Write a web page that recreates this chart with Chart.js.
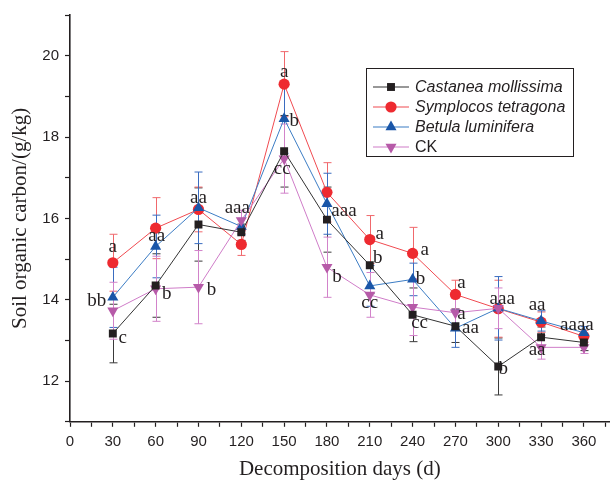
<!DOCTYPE html>
<html lang="en">
  <head>
    <meta charset="utf-8" />
    <title>Soil organic carbon</title>
    <style>
      * {
        margin: 0;
        padding: 0;
      }
      body {
        background: white;
      }
      .chartBox {
        width: 616px;
        height: 486px;
      }
    </style>
  </head>
  <body>
    <div class="chartBox">
      <canvas id="myChart"></canvas>
    </div>

    <script src="https://cdn.jsdelivr.net/npm/chart.js@4.4.0/dist/chart.umd.min.js"></script>

    <script>
      // decomposition days
      const days = [30, 60, 90, 120, 150, 180, 210, 240, 270, 300, 330, 360];

      // soil organic carbon (g/kg)
      const castanea = [13.17, 14.35, 15.85, 15.66, 17.65, 15.97, 14.85, 13.63, 13.35, 12.36, 13.08, 12.95];
      const symplocos = [14.91, 15.76, 16.22, 15.36, 19.3, 16.64, 15.48, 15.14, 14.13, 13.78, 13.45, 13.1];
      const betula = [14.06, 15.31, 16.26, 15.8, 18.45, 16.36, 14.34, 14.5, 13.3, 13.79, 13.48, 13.19];
      const ck = [13.73, 14.27, 14.31, 15.95, 17.47, 14.8, 14.12, 13.82, 13.68, 13.79, 12.83, 12.83];

      // error bar half lengths
      const castaneaErr = [0.72, 0.78, 0.9, 0.2, 0.88, 0.8, 0.7, 0.66, 0.4, 0.7, 0.25, 0.2];
      const symplocosErr = [0.7, 0.75, 0.55, 0.27, 0.8, 0.73, 0.59, 0.64, 0.35, 0.7, 0.25, 0.15];
      const betulaErr = [0.74, 0.77, 0.88, 0.2, 0.85, 0.75, 0.5, 0.4, 0.47, 0.78, 0.25, 0.15];
      const ckErr = [0.7, 0.8, 0.9, 0.25, 0.85, 0.74, 0.55, 0.7, 0.35, 0.5, 0.29, 0.15];

      // tick values
      const xTicks = [0, 15, 30, 45, 60, 75, 90, 105, 120, 135, 150, 165, 180, 195, 210, 225, 240, 255, 270, 285, 300, 315, 330, 345, 360, 375];
      const xTickLabels = [0, 30, 60, 90, 120, 150, 180, 210, 240, 270, 300, 330, 360];
      const yTicks = [11, 12, 13, 14, 15, 16, 17, 18, 19, 20, 21];
      const yTickLabels = [12, 14, 16, 18, 20];

      // significance letters: [dataset index, point index, text]
      const letters = [
        [1, 0, "a"], [2, 0, "bb"], [0, 0, "c"],
        [2, 1, "aa"], [3, 1, "b"],
        [2, 2, "aa"], [3, 2, "b"],
        [3, 3, "aaa"],
        [1, 4, "a"], [2, 4, "b"], [3, 4, "cc"],
        [0, 5, "aaa"], [3, 5, "b"],
        [1, 6, "a"], [0, 6, "b"], [3, 6, "cc"],
        [1, 7, "a"], [2, 7, "b"], [0, 7, "cc"],
        [1, 8, "a"], [3, 8, "a"], [2, 8, "aa"],
        [3, 9, "aaa"], [0, 9, "b"],
        [2, 10, "aa"], [0, 10, "aa"],
        [2, 11, "aaaa"],
      ];
      // pixel offsets of each letter from its point
      const letterOffsets = [
        [0, -16], [-16, 4], [10, 4],
        [1, -10], [11, 5],
        [0, -10], [13, 3],
        [-4, -12],
        [0, -12], [10, 2], [-2, 10],
        [17, -9], [10, 10],
        [10, -6], [8, -7], [0, 8],
        [12, -3], [8, 0], [7, 8],
        [6, -11], [6, 1], [15, 0],
        [4, -9], [5, 3],
        [-4, -16], [-4, 13],
        [-7, -8],
      ];

      const errors = [castaneaErr, symplocosErr, betulaErr, ckErr];
      const errColors = ["#3a3a3a", "#f0686c", "#3a6cc0", "#d283ca"];

      const data = {
        labels: days,
        datasets: [
          {
            label: "Castanea mollissima",
            data: days.map((d, i) => ({ x: d, y: castanea[i] })),
            borderColor: "#333333",
            backgroundColor: "#231f20",
            pointStyle: "rect",
            pointRadius: 5.6,
            order: 1,
          },
          {
            label: "Symplocos tetragona",
            data: days.map((d, i) => ({ x: d, y: symplocos[i] })),
            borderColor: "#f04a50",
            backgroundColor: "#ee2a30",
            pointStyle: "circle",
            pointRadius: 5.6,
            order: 4,
          },
          {
            label: "Betula luminifera",
            data: days.map((d, i) => ({ x: d, y: betula[i] })),
            borderColor: "#3b7cc4",
            backgroundColor: "#1a56a8",
            pointStyle: "triangle",
            pointRadius: 6.4,
            order: 3,
          },
          {
            label: "CK",
            data: days.map((d, i) => ({ x: d, y: ck[i] })),
            borderColor: "#cf7cc8",
            backgroundColor: "#b65aa8",
            pointStyle: "triangle",
            pointRotation: 180,
            pointRadius: 6.4,
            order: 2,
          },
        ],
      };

      const errorBars = {
        id: "errorBars",
        beforeDatasetsDraw(chart) {
          const { ctx, scales } = chart;
          ctx.save();
          ctx.lineWidth = 1;
          for (let i = 0; i < chart.data.datasets.length; i++) {
            const meta = chart.getDatasetMeta(i);
            const ds = chart.data.datasets[i];
            ctx.strokeStyle = errColors[i];
            meta.data.forEach((pt, j) => {
              const v = ds.data[j].y;
              const e = errors[i][j];
              const top = scales.y.getPixelForValue(v + e);
              const bot = scales.y.getPixelForValue(v - e);
              const x = Math.round(pt.x) + 0.5;
              ctx.beginPath();
              ctx.moveTo(x, top);
              ctx.lineTo(x, bot);
              ctx.moveTo(x - 4, top);
              ctx.lineTo(x + 4, top);
              ctx.moveTo(x - 4, bot);
              ctx.lineTo(x + 4, bot);
              ctx.stroke();
            });
          }
          ctx.restore();
        },
      };

      const letterLabels = {
        id: "letterLabels",
        afterDatasetsDraw(chart) {
          const { ctx } = chart;
          ctx.save();
          ctx.font = "19px 'Liberation Serif'";
          ctx.fillStyle = "#231f20";
          ctx.textAlign = "center";
          ctx.textBaseline = "middle";
          letters.forEach(([ds, idx, text], k) => {
            const pt = chart.getDatasetMeta(ds).data[idx];
            const [dx, dy] = letterOffsets[k];
            ctx.fillText(text, pt.x + dx, pt.y + dy);
          });
          ctx.restore();
        },
      };

      const boxLegend = {
        id: "boxLegend",
        afterDraw(chart) {
          const { ctx } = chart;
          const left = 366;
          const top = 68;
          ctx.save();
          ctx.strokeStyle = "#231f20";
          ctx.lineWidth = 1;
          ctx.strokeRect(left + 0.5, top + 0.5, 207, 88);
          ctx.textBaseline = "middle";
          ctx.textAlign = "left";
          chart.data.datasets.forEach((ds, i) => {
            const y = top + 19 + i * 20;
            ctx.strokeStyle = ds.borderColor;
            ctx.lineWidth = 1.2;
            ctx.beginPath();
            ctx.moveTo(left + 7, y);
            ctx.lineTo(left + 43, y);
            ctx.stroke();
            ctx.fillStyle = ds.backgroundColor;
            Chart.helpers.drawPoint(
              ctx,
              {
                pointStyle: ds.pointStyle,
                rotation: ds.pointRotation || 0,
                radius: ds.pointRadius,
                borderWidth: 0,
              },
              left + 25,
              y
            );
            ctx.fillStyle = "#231f20";
            ctx.font = i === 3 ? "16px 'Liberation Sans'" : "italic 16px 'Liberation Sans'";
            ctx.fillText(ds.label, left + 49, y + 1);
          });
          ctx.restore();
        },
      };

      const config = {
        type: "line",
        data: data,
        options: {
          responsive: true,
          maintainAspectRatio: false,
          animation: false,
          layout: {
            padding: { top: 14, right: 1, left: 0, bottom: 4 },
          },
          elements: {
            line: { borderWidth: 1, tension: 0 },
            point: { borderWidth: 0, hoverRadius: 6 },
          },
          plugins: {
            legend: { display: false },
            tooltip: { enabled: false },
          },
          scales: {
            x: {
              type: "linear",
              min: 0,
              max: 378,
              afterBuildTicks: (scale) => {
                scale.ticks = xTicks.map((v) => ({ value: v }));
              },
              ticks: {
                autoSkip: false,
                maxRotation: 0,
                padding: 6,
                color: "#231f20",
                font: { family: "'Liberation Sans'", size: 15 },
                callback: (v) => (xTickLabels.includes(v) ? v : ""),
              },
              grid: {
                drawOnChartArea: false,
                tickLength: 5,
                tickColor: "#231f20",
                tickWidth: 1.2,
              },
              border: { color: "#231f20", width: 1.6 },
              title: {
                display: true,
                text: "Decomposition days (d)",
                color: "#231f20",
                font: { family: "'Liberation Serif'", size: 21 },
                padding: { top: 0, bottom: 0 },
              },
            },
            y: {
              min: 11,
              max: 21,
              afterBuildTicks: (scale) => {
                scale.ticks = yTicks.map((v) => ({ value: v }));
              },
              afterFit: (scale) => {
                scale.width = 70;
              },
              ticks: {
                autoSkip: false,
                padding: 6,
                color: "#231f20",
                font: { family: "'Liberation Sans'", size: 15 },
                callback: (v) => (yTickLabels.includes(v) ? v : ""),
              },
              grid: {
                drawOnChartArea: false,
                tickLength: 5,
                tickColor: "#231f20",
                tickWidth: 1.2,
              },
              border: { color: "#231f20", width: 1.6 },
              title: {
                display: true,
                text: "Soil organic carbon/(g/kg)",
                color: "#231f20",
                font: { family: "'Liberation Serif'", size: 21 },
                padding: { top: 8, bottom: 2 },
              },
            },
          },
        },
        plugins: [errorBars, letterLabels, boxLegend],
      };

      const myChart = new Chart(document.getElementById("myChart"), config);
    </script>
  </body>
</html>
